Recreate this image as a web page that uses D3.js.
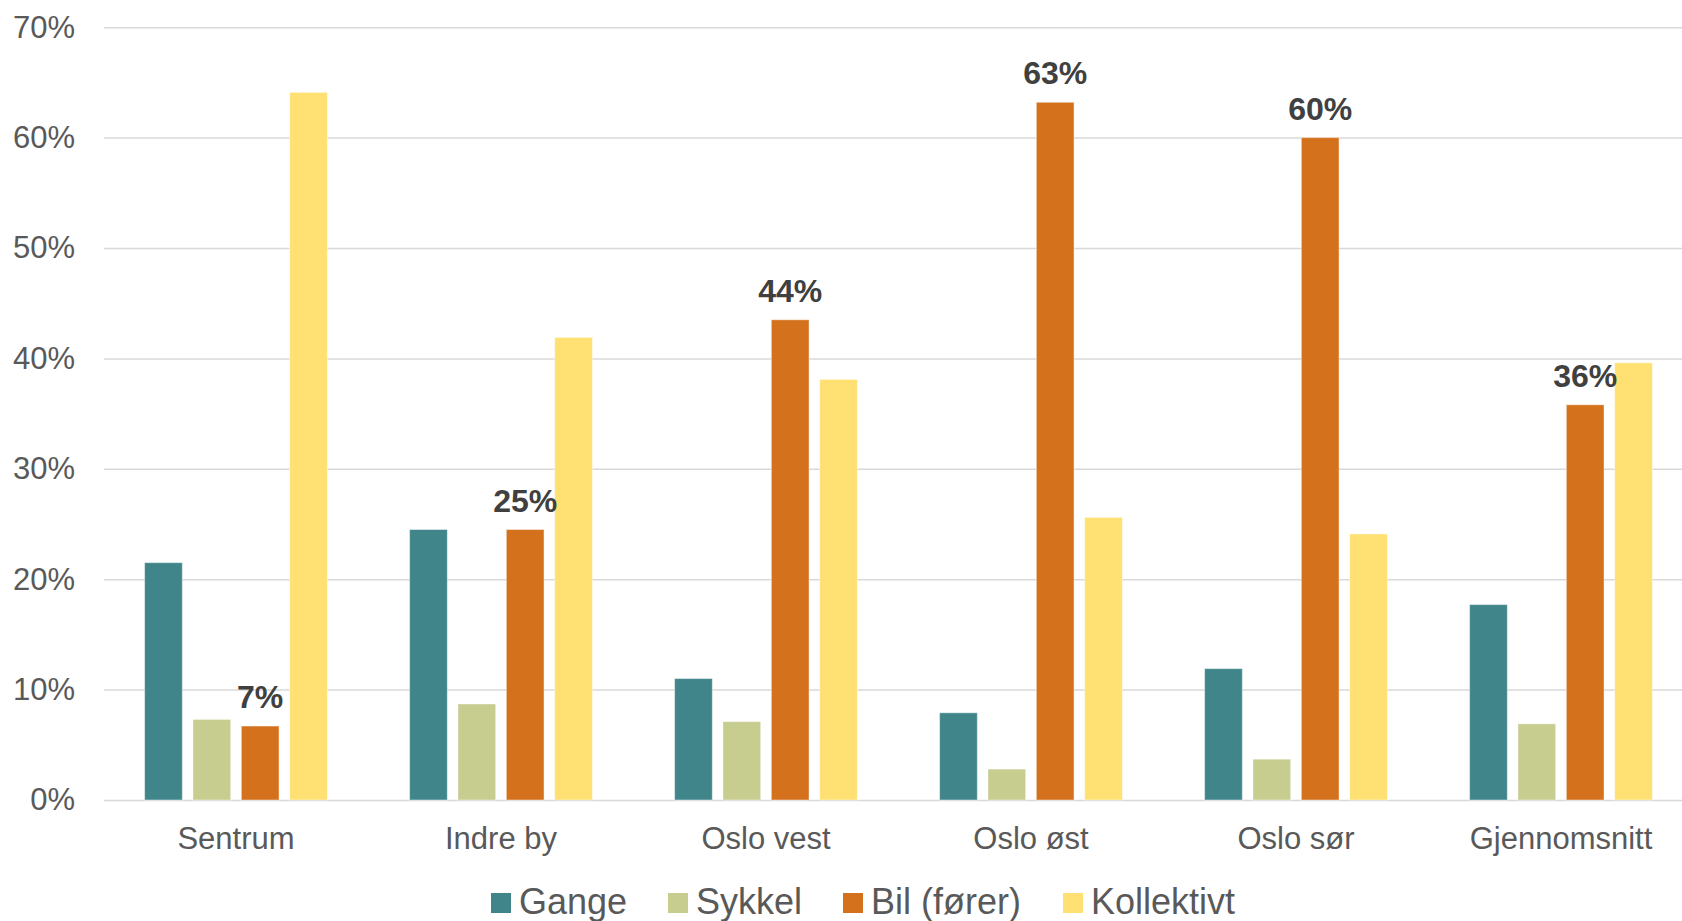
<!DOCTYPE html>
<html>
<head>
<meta charset="utf-8">
<script src="https://cdn.jsdelivr.net/npm/d3@7"></script>
<style>
  html, body { margin: 0; padding: 0; background: #fff; overflow: hidden; }
  svg { display: block; font-family: "Liberation Sans", Arial, sans-serif; }
</style>
</head>
<body>
<svg id="chart" width="1682" height="921"></svg>
<script>
// data
var categories = ["Sentrum", "Indre by", "Oslo vest", "Oslo øst", "Oslo sør", "Gjennomsnitt"];
var series = ["Gange", "Sykkel", "Bil (fører)", "Kollektivt"];
var gange      = [0.215, 0.245, 0.110, 0.079, 0.119, 0.177];
var sykkel     = [0.073, 0.087, 0.071, 0.028, 0.037, 0.069];
var bil        = [0.067, 0.245, 0.435, 0.632, 0.600, 0.358];
var kollektivt = [0.641, 0.419, 0.381, 0.256, 0.241, 0.396];
var yTicks = [0, 0.1, 0.2, 0.3, 0.4, 0.5, 0.6, 0.7];
var colors = ["#40858a", "#c7cc8f", "#d4711c", "#ffe073"];

var values = [gange, sykkel, bil, kollektivt];
var rows = categories.map(function(c, i) {
	return { cat: c, vals: series.map(function(s, j) { return { key: s, idx: j, value: values[j][i] }; }) };
});

var svg = d3.select("#chart");
var fmt = d3.format(".0%");

var y = d3.scaleLinear().domain([0, 0.7]).range([800, 27.2]);
var x0 = d3.scaleBand().domain(categories).range([103.5, 103.5 + 6 * 265]).padding(0);
var x1 = d3.scaleBand().domain(series).range([0, x0.bandwidth()])
	.paddingInner(0.22).paddingOuter(0.85);
var color = d3.scaleOrdinal().domain(series).range(colors);

/* ------- GRID + Y AXIS -------*/
var yAxis = svg.append("g")
	.attr("transform", "translate(104,0)")
	.call(d3.axisLeft(y).tickValues(yTicks).tickFormat(fmt).tickSize(-1600).tickPadding(29));
yAxis.select(".domain").remove();
yAxis.selectAll(".tick line").attr("stroke", "#d9d9d9").attr("stroke-width", 1.5);
yAxis.selectAll(".tick text")
	.attr("fill", "#595959")
	.attr("font-size", "31px")
	.attr("font-family", "Liberation Sans, Arial, sans-serif");

/* ------- X AXIS -------*/
var xAxis = svg.append("g")
	.attr("transform", "translate(0,800)")
	.call(d3.axisBottom(x0).tickSize(0).tickPadding(27));
xAxis.select(".domain").remove();
xAxis.selectAll(".tick text")
	.attr("fill", "#595959")
	.attr("font-size", "31px")
	.attr("font-family", "Liberation Sans, Arial, sans-serif");

/* ------- BARS -------*/
var groups = svg.append("g").selectAll("g.cat")
	.data(rows)
	.enter().append("g")
	.attr("class", "cat")
	.attr("transform", function(d) { return "translate(" + x0(d.cat) + ",0)"; });

groups.selectAll("rect")
	.data(function(d) { return d.vals; })
	.enter().append("rect")
	.attr("x", function(d) { return x1(d.key); })
	.attr("y", function(d) { return y(d.value); })
	.attr("width", x1.bandwidth())
	.attr("height", function(d) { return y(0) - y(d.value); })
	.style("fill", function(d) { return color(d.key); })
	.style("stroke", "#fff")
	.style("stroke-opacity", 0.45)
	.style("stroke-width", 1);

// labels only on the car series
groups.append("text")
	.datum(function(d) { return d.vals[2]; })
	.attr("x", function(d) { return x1(d.key) + x1.bandwidth() / 2; })
	.attr("y", function(d) { return y(d.value) - 18; })
	.attr("text-anchor", "middle")
	.attr("font-size", "32px")
	.attr("font-weight", "bold")
	.attr("fill", "#404040")
	.text(function(d) { return fmt(d.value); });

/* ------- LEGEND -------*/
var legendX = [491, 668, 843, 1063];
var legend = svg.append("g").selectAll("g.leg")
	.data(series)
	.enter().append("g")
	.attr("class", "leg")
	.attr("transform", function(d, i) { return "translate(" + legendX[i] + ",0)"; });

legend.append("rect")
	.attr("x", 0).attr("y", 893)
	.attr("width", 20).attr("height", 20)
	.style("fill", function(d) { return color(d); });

legend.append("text")
	.attr("x", 28).attr("y", 914)
	.attr("font-size", "36px")
	.attr("fill", "#595959")
	.text(function(d) { return d; });
</script>
</body>
</html>
